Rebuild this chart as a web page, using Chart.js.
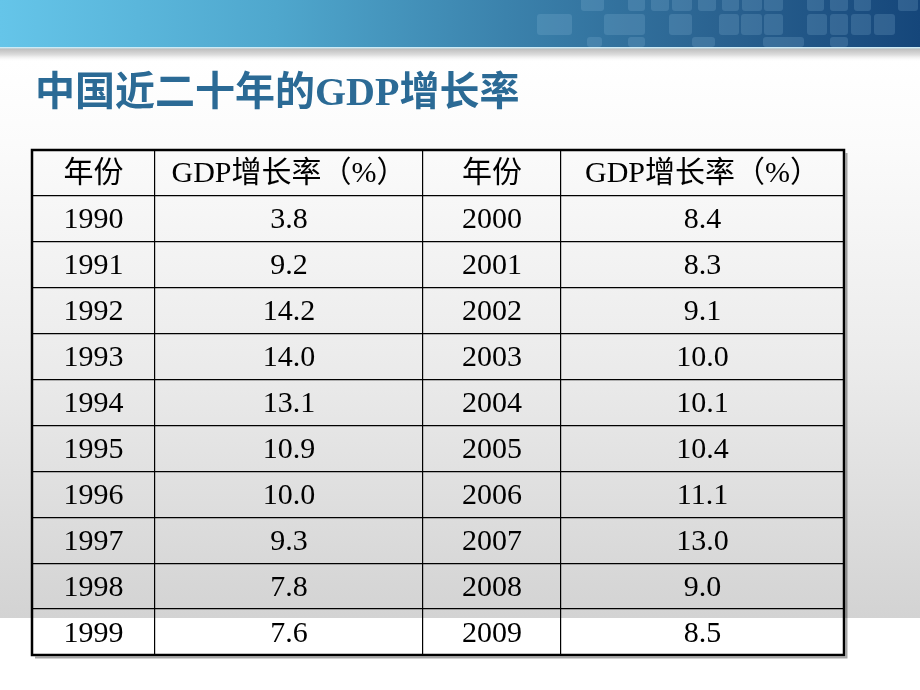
<!DOCTYPE html>
<html><head><meta charset="utf-8">
<script src="https://cdn.jsdelivr.net/npm/chart.js@4.4.1/dist/chart.umd.min.js"></script>
<style>html,body{margin:0;padding:0;background:#fff;overflow:hidden}canvas{display:block}</style>
</head><body>
<canvas id="c" width="920" height="690"></canvas>
<script>
// ---- data ----
const titleText = '中国近二十年的GDP增长率';
const headers = ['年份', 'GDP增长率（%）', '年份', 'GDP增长率（%）'];
const yearsA = ['1990', '1991', '1992', '1993', '1994', '1995', '1996', '1997', '1998', '1999'];
const ratesA = [3.8, 9.2, 14.2, 14.0, 13.1, 10.9, 10.0, 9.3, 7.8, 7.6];
const yearsB = ['2000', '2001', '2002', '2003', '2004', '2005', '2006', '2007', '2008', '2009'];
const ratesB = [8.4, 8.3, 9.1, 10.0, 10.1, 10.4, 11.1, 13.0, 9.0, 8.5];

// ---- layout (column boundaries in x-scale units) ----
const columnEdges = [0, 123, 391, 529, 812];
const rowCount = 1 + yearsA.length;

const columnsText = [
  [headers[0]].concat(yearsA),
  [headers[1]].concat(ratesA.map(v => v.toFixed(1))),
  [headers[2]].concat(yearsB),
  [headers[3]].concat(ratesB.map(v => v.toFixed(1)))
];

const datasets = columnsText.map((col, c) => ({
  label: 'col' + c,
  data: col.map((t, r) => ({ x: (columnEdges[c] + columnEdges[c + 1]) / 2, y: r + 0.5, text: t })),
  pointRadius: 0,
  pointHoverRadius: 0,
  showLine: false
}));

const pagePlugin = {
  id: 'page',
  beforeDraw(chart) {
    const ctx = chart.ctx, W = chart.width, H = chart.height;
    ctx.save();
    ctx.fillStyle = '#ffffff';
    ctx.fillRect(0, 0, W, H);
    // body gradient
    let g = ctx.createLinearGradient(0, 60, 0, 618);
    g.addColorStop(0, '#ffffff');
    g.addColorStop(0.15, '#fbfbfb');
    g.addColorStop(0.55, '#ebebeb');
    g.addColorStop(1, '#d3d3d3');
    ctx.fillStyle = g;
    ctx.fillRect(0, 48, W, 570);
    // shadow under banner
    g = ctx.createLinearGradient(0, 48, 0, 62);
    g.addColorStop(0, '#b9b9b9');
    g.addColorStop(0.5, '#dedede');
    g.addColorStop(1, 'rgba(255,255,255,0)');
    ctx.fillStyle = g;
    ctx.fillRect(0, 48, W, 14);
    // banner
    g = ctx.createLinearGradient(0, 0, W, 0);
    g.addColorStop(0, '#65c5e9');
    g.addColorStop(0.3, '#4fa7cd');
    g.addColorStop(0.55, '#3b82ac');
    g.addColorStop(0.78, '#2a6290');
    g.addColorStop(1, '#15467a');
    ctx.fillStyle = g;
    ctx.fillRect(0, 0, W, 47);
    ctx.fillStyle = 'rgba(200,232,244,0.9)';
    ctx.fillRect(0, 47, W, 1.5);
    // decorative squares
    const sq = [
      [581, -4, 23, 15], [628, -4, 17, 15], [651, -4, 18, 15], [672, -4, 20, 15], [698, -4, 18, 15],
      [722, -4, 17, 15], [742, -4, 20, 15], [764, -4, 19, 15], [807, -4, 17, 15], [830, -4, 18, 15],
      [854, -4, 17, 15], [898, -4, 20, 15],
      [537, 14, 35, 21], [604, 14, 41, 21], [669, 14, 23, 21], [719, 14, 20, 21], [741, 14, 21, 21],
      [764, 14, 19, 21], [807, 14, 20, 21], [830, 14, 18, 21], [851, 14, 20, 21], [874, 14, 21, 21],
      [587, 37, 15, 10], [628, 37, 17, 10], [692, 37, 23, 10], [763, 37, 41, 10], [830, 37, 18, 10]
    ];
    ctx.fillStyle = 'rgba(150,195,225,0.2)';
    sq.forEach(s => {
      ctx.beginPath();
      if (ctx.roundRect) ctx.roundRect(s[0], s[1], s[2], s[3], 3); else ctx.rect(s[0], s[1], s[2], s[3]);
      ctx.fill();
    });
    // title
    ctx.fillStyle = '#2b6a95';
    ctx.font = 'bold 40px "Liberation Serif", "Noto Sans CJK SC", serif';
    ctx.textBaseline = 'alphabetic';
    ctx.textAlign = 'left';
    ctx.fillText(titleText, 35, 105);
    ctx.restore();
  },
  afterDraw(chart) {
    const ctx = chart.ctx, a = chart.chartArea;
    ctx.save();
    // outer frame with light shadow
    ctx.strokeStyle = 'rgba(0,0,0,0.35)';
    ctx.lineWidth = 2;
    ctx.beginPath();
    ctx.moveTo(a.left + 3, a.bottom + 2.5);
    ctx.lineTo(a.right + 2.5, a.bottom + 2.5);
    ctx.lineTo(a.right + 2.5, a.top + 3);
    ctx.stroke();
    ctx.strokeStyle = '#000';
    ctx.lineWidth = 2.5;
    ctx.strokeRect(a.left, a.top, a.right - a.left, a.bottom - a.top);
    // cell texts, positioned by the chart's scatter elements
    ctx.fillStyle = '#000';
    ctx.textAlign = 'center';
    ctx.textBaseline = 'alphabetic';
    chart.data.datasets.forEach((ds, di) => {
      const meta = chart.getDatasetMeta(di);
      meta.data.forEach((el, i) => {
        const t = ds.data[i].text;
        const isHeader = i === 0;
        ctx.font = (isHeader ? '30px' : '30px') + ' "Liberation Serif", "Noto Sans CJK SC", serif';
        ctx.fillText(t, el.x, el.y + 9.5);
      });
    });
    ctx.restore();
  }
};

new Chart(document.getElementById('c'), {
  type: 'scatter',
  data: { datasets },
  plugins: [pagePlugin],
  options: {
    responsive: false,
    animation: false,
    devicePixelRatio: 1,
    events: [],
    layout: { padding: { left: 32, top: 150, right: 76, bottom: 35 } },
    plugins: { legend: { display: false }, tooltip: { enabled: false } },
    scales: {
      x: {
        type: 'linear', min: columnEdges[0], max: columnEdges[columnEdges.length - 1],
        afterBuildTicks: s => { s.ticks = columnEdges.map(v => ({ value: v })); },
        ticks: { display: false },
        grid: { color: '#000', lineWidth: 1.2, drawTicks: false },
        border: { display: false }
      },
      y: {
        type: 'linear', min: 0, max: rowCount, reverse: true,
        ticks: { display: false, stepSize: 1 },
        grid: { color: '#000', lineWidth: 1.2, drawTicks: false },
        border: { display: false }
      }
    }
  }
});
</script>
</body></html>
